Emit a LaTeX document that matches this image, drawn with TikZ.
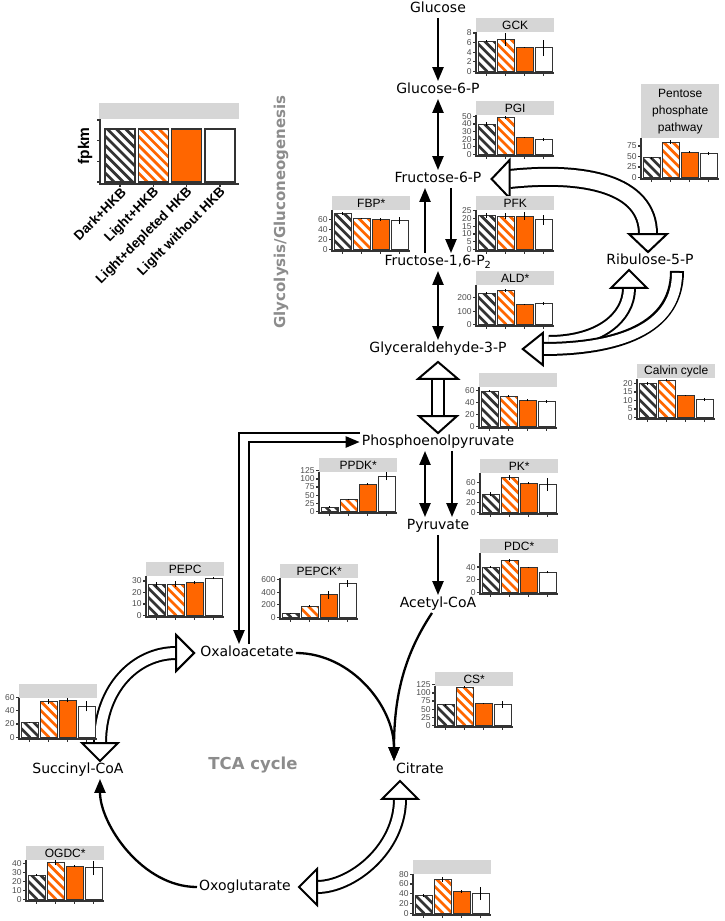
\documentclass[tikz,border=0pt]{standalone}
\usepackage{fontspec}
\setmainfont{DejaVu Sans}
\newfontfamily\chartfont{Liberation Sans}
\usepackage{tikz}
\usetikzlibrary{arrows.meta}
\usetikzlibrary{calc}
\tikzset{>={Triangle[length=14pt,width=11pt]}}

\definecolor{hkborange}{HTML}{FF6600}
\definecolor{darkstripe}{HTML}{333333}
\definecolor{stripgray}{HTML}{D6D6D6}
\definecolor{axisgray}{HTML}{333333}
\definecolor{tickgray}{HTML}{4D4D4D}
\definecolor{titlegray}{HTML}{8C8C8C}

% diagonal stripes inside a bar: left x, width, height, colour
\newcommand\hatchbar[4]{%
  \begin{scope}
    \clip (#1,0) rectangle ++(#2,{-#3});
    \foreach \k in {0,...,10}
      \draw[#4, line width=2.7pt] ({#1+\k*9.2},0) -- ++(-70,-70);
  \end{scope}}

% small bar chart: name, strip corner, title, px per fpkm, ticks, value/error pairs
\newcommand\fpkmchart[6]{%
  \node[strip] (#1) at #2 {#3};
  \coordinate (#1-o) at ([yshift=-39pt]#1.south west);
  \begin{scope}[shift={(#1-o)}]
    \foreach \v/\e [count=\i] in {#6} {
      \pgfmathsetmacro\bx{2+(\i-1)*19}
      \pgfmathsetmacro\bh{\v*#4}
      \ifnum\i=1 \hatchbar{\bx}{17.5}{\bh}{darkstripe}\fi
      \ifnum\i=2 \hatchbar{\bx}{17.5}{\bh}{hkborange}\fi
      \draw[bar\i] (\bx,0) rectangle ++(17.5,-\bh);
      \draw[errbar] ({\bx+8.75},{-(\v-\e)*#4}) -- ({\bx+8.75},{-(\v+\e)*#4});
      \draw[axisln] ({\bx+8.75},1.5) -- ++(0,3);
    }
    \foreach \t in {#5}
      \draw[axisln] (0,{-\t*#4}) -- ++(-3,0) node[ticklab] (#1-\t) {\t};
    \draw[axisln] (0,-39) -- (0,1.5) -- (78,1.5);
  \end{scope}}

% wide open arrows: shaft, then heads on top
\newcommand\hollowshaft[3][]{%
  \draw[line width=#2] #3;
  \draw[white, line width=#2-4pt, #1] #3;}
\newcommand\hollowhead[4]{%
  \draw[line width=2pt, fill=white, line join=miter, shift={#1}, rotate=#2]
    (0,0) -- (-#3,#4) -- (-#3,-#4) -- cycle;}

\begin{document}
\begin{tikzpicture}[x=1pt, y=-1pt,
        metab/.style={font=\fontsize{14}{16}\selectfont, inner sep=2pt, text height=10.5pt, text depth=3pt},
        strip/.style={fill=stripgray, anchor=north west, minimum width=78pt, minimum height=14pt,
          inner xsep=0pt, inner ysep=1.5pt, align=center, font=\chartfont\fontsize{12}{17}\selectfont},
        ticklab/.style={anchor=east, inner sep=0.8pt, text=tickgray, font=\chartfont\fontsize{8.5}{9}\selectfont},
        axisln/.style={draw=axisgray, line width=1.2pt},
        bar/.style={draw=axisgray, line width=1pt},
        bar1/.style={bar},
        bar2/.style={bar},
        bar3/.style={bar, fill=hkborange},
        bar4/.style={bar, fill=white},
        errbar/.style={line width=1.1pt, black},
        flux/.style={line width=2.3pt, ->},
        pathtitle/.style={text=titlegray, font=\bfseries\fontsize{15}{16}\selectfont}
    ]
    \useasboundingbox (0,0) rectangle (725,921);

    % metabolites
    \node[metab] (glc) at (438,9) {Glucose};
    \node[metab] (g6p) at (438,90) {Glucose-6-P};
    \node[metab] (f6p) at (438,179) {Fructose-6-P};
    \node[metab] (fbp) at (438,262) {Fructose-1,6-P\textsubscript{2}};
    \node[metab] (gap) at (438,349) {Glyceraldehyde-3-P};
    \node[metab] (pep) at (438,442) {Phosphoenolpyruvate};
    \node[metab] (pyr) at (438,526) {Pyruvate};
    \node[metab] (accoa) at (438,604) {Acetyl-CoA};
    \node[metab] (ru5p) at (650,261) {Ribulose-5-P};
    \node[metab] (oaa) at (247,653) {Oxaloacetate};
    \node[metab] (cit) at (420,770) {Citrate};
    \node[metab] (succoa) at (78,770) {Succinyl-CoA};
    \node[metab] (akg) at (245,887) {Oxoglutarate};

    \node[pathtitle, rotate=90] (glylab) at (281,212) {Glycolysis/Gluconeogenesis};
    \node[pathtitle, font=\bfseries\fontsize{16.5}{18}\selectfont] (tcalab) at (253,765) {TCA cycle};

    % glycolysis
    \draw[flux] (glc) -- (g6p);
    \draw[flux,<->] (g6p) -- (f6p);
    \draw[flux] ([xshift=13pt]f6p.south) -- ([xshift=13pt]fbp.north);
    \draw[flux] ([xshift=-13pt]fbp.north) -- ([xshift=-13pt]f6p.south);
    \draw[flux,<->] (fbp) -- (gap);
    \draw[flux,<->] ([xshift=-13pt]pep.south) -- ([xshift=-13pt]pyr.north);
    \draw[flux] ([xshift=14pt]pep.south) -- ([xshift=14pt]pyr.north);
    \draw[flux] (pyr) -- (accoa);

    % PEP <-> oxaloacetate
    \draw[flux] ([yshift=9pt]pep.west) -| ([xshift=-8pt]oaa.north);
    \draw[flux] ([xshift=2pt]oaa.north) |- (pep.west);

    % TCA cycle
    \draw[flux] (oaa.east) .. controls +(55,0) and +(0,-55) .. ([xshift=-26pt]cit.north);
    \draw[flux] ([xshift=-6pt]accoa.south) .. controls +(-30,45) and +(0,-60) .. ([xshift=-26pt]cit.north);
    \draw[flux] (akg.west) .. controls +(-55,0) and +(0,45) .. ([xshift=22pt]succoa.south);

    % open arrows
    \hollowshaft{14pt}{($(gap.south)+(0,21)$) -- ($(pep.north)+(0,-17)$)}
    \hollowhead{($(gap.south)+(0,4)$)}{90}{17}{20}
    \hollowhead{(pep.north)}{270}{17}{19}

    \hollowshaft{20pt}{($(f6p.east)+(26,0)$) .. controls +(75,-8) and +(0,-50) .. ($(ru5p.north)+(-2,-18)$)}
    \hollowhead{($(f6p.east)+(8,0)$)}{180}{18}{19}
    \hollowhead{($(ru5p.north)+(-2,0)$)}{270}{18}{19}

    \hollowshaft{14pt}{($(gap.east)+(40,-7)$) .. controls +(50,0) and +(0,30) .. ($(ru5p.south)+(-21,18)$)}
    \hollowhead{($(ru5p.south)+(-21,0)$)}{90}{18}{18}
    \hollowshaft[shorten <=2pt]{14pt}{($(ru5p.south)+(27,1)$) .. controls +(0,65) and +(60,0) .. ($(gap.east)+(34,0)$)}
    \hollowhead{($(gap.east)+(14,0)$)}{180}{20}{16}

    \hollowshaft{14pt}{($(succoa.north)+(22,-18)$) .. controls +(0,-55) and +(-40,0) .. ($(oaa.west)+(-22,0)$)}
    \hollowhead{($(succoa.north)+(22,0)$)}{270}{18}{18}
    \hollowhead{($(oaa.west)+(-4,0)$)}{0}{18}{18}

    \hollowshaft{14pt}{($(cit.south)+(-20,20)$) .. controls +(0,50) and +(35,0) .. ($(akg.east)+(24,0)$)}
    \hollowhead{($(cit.south)+(-20,2)$)}{90}{18}{18}
    \hollowhead{($(akg.east)+(6,0)$)}{180}{18}{18}

    % legend
    \node[strip, minimum width=140pt, minimum height=16pt] (lgstrip) at (99,103) {};
    \begin{scope}[shift={(100,182)}]
        \hatchbar{5}{30}{53}{darkstripe}
        \hatchbar{38.3}{30}{53}{hkborange}
        \foreach \i in {1,...,4}
            \draw[bar\i, line width=1.4pt] ({5+(\i-1)*33.3},0) rectangle ++(30,-53);
        \foreach \t in {0,20.7,41.3,62}
            \draw[axisln] (0,-\t) -- ++(-3,0);
        \draw[axisln] (0,-63) -- (0,2) -- (139,2);
        \foreach \lab [count=\i] in {Dark+HKB,Light+HKB,Light+depleted HKB,Light without HKB} {
            \draw[axisln] ({20+(\i-1)*33.3},2) -- ++(0,3);
            \node[rotate=45, anchor=east, inner sep=0.5pt, font=\chartfont\bfseries\fontsize{13.5}{14}\selectfont]
                (lg\i) at ({24+(\i-1)*33.3},8) {\lab};
        }
    \end{scope}
    \node[rotate=90, font=\chartfont\bfseries\fontsize{15.5}{16}\selectfont] (fpkm) at (85,146) {fpkm};

    % enzyme charts
    \fpkmchart{gck}{(476,18)}{GCK}{4.8}{0,2,4,6,8}{6.3/0.2, 6.6/1.3, 5.0/0.15, 4.9/1.7}
    \fpkmchart{pgi}{(476,101)}{PGI}{0.76}{0,10,20,30,40,50}{40/2, 49/2, 22/1, 20/2}
    \fpkmchart{fbpase}{(332,196)}{FBP*}{0.495}{0,20,40,60}{72/3, 63/1, 61/3, 58/7}
    \fpkmchart{pfk}{(476,196)}{PFK}{1.55}{0,5,10,15,20,25}{22/1.5, 21.5/2, 21.5/2.5, 19/3}
    \fpkmchart{ald}{(476,271)}{ALD*}{0.133}{0,100,200}{235/8, 255/8, 150/6, 157/10}
    \fpkmchart{gapdh}{(479,373)}{}{0.605}{0,20,40,60}{58/1.5, 50/2, 43/1.5, 41/2}
    \fpkmchart{pk}{(480,459)}{PK*}{0.5}{0,20,40,60}{36/4, 69/5, 58/2, 56/13}
    \fpkmchart{calvin}{(637,364)}{Calvin cycle}{1.7}{0,5,10,15,20}{20/1, 22/0.7, 13/0.5, 10.5/0.8}
    \fpkmchart{ppp}{(641,84)}{\rule{0pt}{12pt}Pentose\\phosphate\\pathway\rule[-5pt]{0pt}{5pt}}{0.42}{0,25,50,75}{47/2, 84/4, 60/2, 57/2.5}
    \fpkmchart{ppdk}{(319,458)}{PPDK*}{0.325}{0,25,50,75,100,125}{13/3, 36/2, 84/3, 108/12}
    \fpkmchart{pdc}{(480,539)}{PDC*}{0.633}{0,20,40}{40/1, 51/2.5, 39/1, 32/2}
    \fpkmchart{pepc}{(146,562)}{PEPC}{1.15}{0,10,20,30}{27/2, 27/2.5, 28.5/1, 32.5/1}
    \fpkmchart{pepck}{(280,564)}{PEPCK*}{0.0628}{0,200,400,600}{65/10, 175/15, 360/60, 540/55}
    \fpkmchart{cs}{(435,672)}{CS*}{0.325}{0,25,50,75,100,125}{63/4, 118/3, 67/2, 65/10}
    \fpkmchart{aco}{(413,860)}{}{0.49}{0,20,40,60,80}{37/3, 70/5, 45/3, 40/13}
    \fpkmchart{ogdc}{(26,846)}{OGDC*}{0.9}{0,10,20,30,40}{27/1, 41/3, 37/1.5, 35/8}
    \fpkmchart{scs}{(19,684)}{}{0.667}{0,20,40,60}{22/1, 54/4, 56/3, 47/8}
\end{tikzpicture}
\end{document}
